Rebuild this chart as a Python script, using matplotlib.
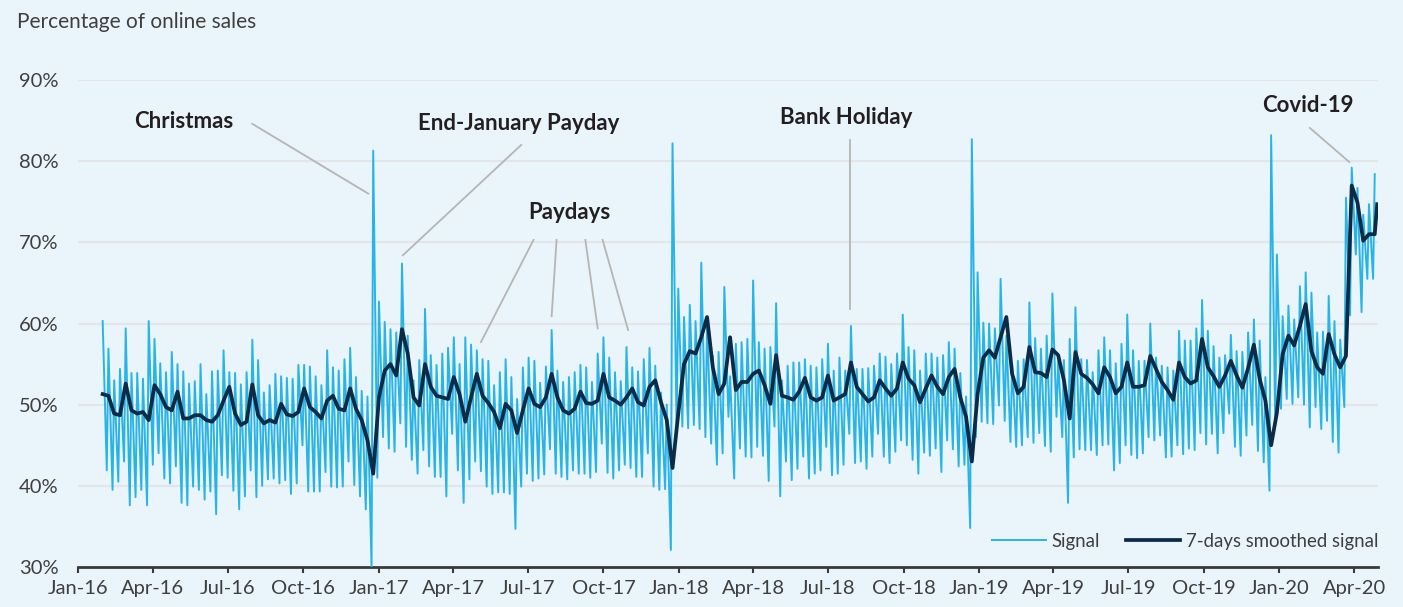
import matplotlib
matplotlib.use("Agg")
import matplotlib.pyplot as plt
import matplotlib.dates as mdates
import numpy as np
import pandas as pd

# weekly signal peaks (Sundays, from 2016-01-31) and troughs (following Friday), in %
signal_high = [
    60.3, 56.9, 53.0, 54.4, 59.4, 53.9, 53.9, 53.2, 60.3, 58.1, 55.1, 54.0, 56.5, 55.0,
    54.1, 52.6, 52.9, 55.0, 51.3, 54.1, 54.2, 56.7, 54.0, 53.9, 52.5, 54.0, 58.0,
    55.5, 51.5, 52.4, 53.8, 53.5, 53.3, 53.2, 54.9, 54.9, 54.7, 53.5, 52.4, 56.7, 54.6,
    54.2, 55.6, 57.0, 53.4, 51.7, 51.0, 81.3, 62.7, 60.2, 59.3, 58.9, 67.4, 58.5, 53.0,
    55.5, 61.8, 56.1, 54.9, 56.3, 57.0, 58.3, 55.0, 58.3, 57.4, 56.7, 55.6, 55.4, 52.4,
    54.0, 55.6, 53.4, 50.7, 54.6, 55.8, 55.4, 52.7, 54.7, 59.2, 54.2, 52.8, 53.4, 54.0,
    54.9, 54.6, 52.8, 56.3, 58.3, 55.8, 54.0, 52.9, 57.1, 54.6, 54.1, 55.6, 57.0, 54.8,
    51.5, 50.0, 82.2, 64.3, 60.8, 62.3, 60.3, 67.5, 60.0, 56.0, 56.5, 64.5, 53.5, 57.5,
    57.7, 58.1, 65.3, 57.7, 56.9, 57.1, 62.5, 53.0, 54.8, 55.2, 55.2, 55.6, 54.8, 54.6,
    55.6, 57.5, 54.2, 55.8, 54.2, 59.7, 54.4, 54.4, 54.5, 54.8, 56.3, 55.9, 55.0, 56.3, 61.1,
    57.1, 56.7, 54.2, 56.3, 56.3, 55.8, 56.1, 57.7, 56.9, 53.9, 51.0, 82.7, 66.3, 60.1,
    60.0, 59.4, 65.5, 58.5, 55.0, 55.4, 55.6, 62.6, 58.2, 56.9, 58.5, 63.7, 55.4, 55.5,
    58.1, 62.0, 55.6, 55.5, 54.0, 56.7, 58.3, 56.7, 55.1, 57.5, 61.1, 56.7, 55.4, 55.4,
    60.0, 55.8, 54.8, 54.6, 54.2, 59.1, 57.9, 57.9, 59.4, 62.9, 59.1, 57.2, 55.8, 56.1, 58.6,
    56.6, 56.5, 58.9, 60.5, 57.9, 53.4, 83.2, 68.5, 60.9, 62.2, 60.5, 64.6, 66.3, 63.8,
    58.9, 59.0, 63.4, 60.3, 58.0, 75.5, 79.2, 76.7, 73.4, 74.7, 78.4,
]
signal_low = [
    41.9, 39.5, 40.5, 43.0, 37.6, 38.6, 39.5, 37.6, 42.6, 44.0, 40.9, 40.3, 42.4, 37.9,
    37.6, 39.9, 39.5, 38.3, 39.3, 36.5, 41.3, 41.0, 39.4, 37.1, 38.7, 41.9, 38.6,
    40.0, 40.8, 40.9, 40.3, 40.7, 39.0, 40.3, 45.0, 39.3, 39.3, 39.3, 41.7, 39.9, 39.8,
    39.9, 43.0, 40.1, 38.7, 37.1, 30.0, 41.0, 46.0, 44.6, 44.2, 47.7, 44.8, 43.2, 41.5,
    44.4, 42.4, 41.1, 41.1, 38.7, 46.4, 41.9, 37.9, 40.8, 43.0, 41.8, 39.9, 39.0, 39.2,
    39.2, 39.0, 34.7, 39.9, 41.5, 40.6, 40.9, 41.4, 44.5, 41.5, 41.1, 40.8, 41.9,
    41.5, 41.5, 41.0, 41.7, 45.2, 41.6, 40.9, 41.9, 42.6, 42.2, 41.1, 41.1, 44.0, 39.9,
    39.5, 39.6, 32.1, 47.0, 47.3, 47.1, 47.5, 47.0, 46.0, 45.2, 42.6, 44.0, 48.5, 40.9, 44.6,
    43.6, 43.5, 44.8, 43.7, 40.6, 47.3, 38.7, 43.0, 40.7, 42.1, 43.6, 40.9, 41.5, 41.9,
    44.8, 41.3, 41.5, 42.6, 46.4, 42.8, 43.0, 42.1, 43.6, 46.4, 43.6, 42.8, 44.2, 45.6,
    45.0, 43.2, 41.5, 44.1, 43.7, 44.6, 41.7, 45.6, 44.5, 42.4, 42.6, 34.8, 46.0, 47.9,
    47.7, 47.6, 49.9, 48.0, 45.4, 44.8, 45.0, 46.0, 45.3, 46.5, 44.9, 44.2, 48.5, 46.0, 37.9,
    43.5, 44.5, 44.4, 44.4, 43.8, 45.0, 45.1, 41.9, 42.8, 45.0, 43.8, 43.4, 44.0, 46.0,
    45.6, 46.2, 43.5, 43.6, 45.0, 43.9, 44.6, 44.4, 46.5, 45.1, 46.4, 44.0, 46.5, 48.9,
    44.8, 43.7, 46.2, 47.5, 44.3, 42.9, 39.4, 47.5, 49.5, 50.7, 50.1, 50.9, 50.0, 47.2,
    49.7, 47.0, 48.0, 45.4, 44.1, 49.7, 61.0, 68.5, 61.4, 65.5, 65.5,
]
# 7-day smoothed signal, read on the same Sundays, plus the last day shown
smoothed = [
    51.3, 51.1, 48.9, 48.7, 52.6, 49.3, 48.9, 49.1, 48.1, 52.4, 51.3, 49.7, 49.3, 51.6,
    48.3, 48.3, 48.7, 48.7, 48.1, 47.9, 48.7, 50.5, 52.2, 48.9, 47.5, 47.9, 52.5,
    48.7, 47.7, 48.1, 47.8, 50.1, 48.8, 48.6, 49.1, 52.0, 49.7, 49.1, 48.3, 50.5, 51.1,
    49.5, 49.3, 52.0, 49.5, 48.1, 45.6, 41.5, 50.9, 54.2, 55.0, 53.6, 59.3, 56.3, 50.9,
    49.9, 55.0, 52.2, 51.1, 50.9, 50.7, 53.4, 51.3, 47.9, 50.9, 53.8, 51.1, 50.2, 49.1,
    47.1, 50.1, 49.3, 46.5, 49.3, 52.0, 50.1, 49.7, 50.9, 53.8, 50.9, 49.3, 48.9, 49.5,
    51.6, 50.2, 50.1, 50.5, 53.8, 50.9, 50.5, 50.0, 50.9, 52.0, 50.3, 49.9, 52.2, 53.0,
    50.3, 48.1, 42.2, 48.9, 55.0, 56.6, 56.3, 58.3, 60.8, 54.6, 51.3, 52.6, 58.3, 51.8, 52.8,
    52.8, 53.8, 54.2, 52.4, 50.1, 56.1, 51.1, 50.9, 50.6, 51.6, 53.3, 50.9, 50.5, 50.9,
    53.6, 50.5, 50.9, 51.3, 55.2, 52.2, 51.3, 50.4, 50.9, 53.0, 52.0, 51.1, 52.0, 55.2,
    53.2, 52.4, 50.3, 52.0, 53.6, 52.2, 51.3, 53.4, 54.4, 50.9, 48.5, 43.0, 51.3, 55.8,
    56.7, 55.8, 58.3, 60.8, 53.8, 51.4, 52.2, 57.1, 54.0, 53.9, 53.4, 56.8, 56.1, 53.0,
    48.3, 56.5, 53.8, 53.3, 52.5, 51.4, 54.6, 53.4, 51.4, 52.2, 55.2, 52.2, 52.2, 52.4,
    56.0, 54.4, 52.8, 51.8, 50.6, 55.2, 53.4, 52.6, 53.0, 58.1, 54.6, 53.5, 52.2, 53.6,
    55.4, 53.6, 52.1, 54.5, 57.4, 53.2, 50.5, 45.0, 49.0, 56.2, 58.5, 57.3, 59.7, 62.4,
    56.6, 54.6, 53.8, 58.7, 56.2, 54.6, 56.0, 77.0, 74.9, 70.2, 71.0, 71.0,
]
smoothed_last = ("2020-04-29", 74.7)

first_sunday = pd.Timestamp("2016-01-31")
x_range = ("2016-01-01", "2020-04-30")

# annotations: text, text position, line start/end pairs
annotations = [
    ("Christmas", ("2016-05-08", 84.9), [(("2016-07-31", 84.6), ("2016-12-19", 76.0))]),
    ("End-January Payday", ("2017-06-20", 84.7), [(("2017-06-23", 82.0), ("2017-01-30", 68.4))]),
    ("Paydays", ("2017-08-21", 73.7), [
        (("2017-07-08", 70.3), ("2017-05-05", 57.7)),
        (("2017-08-05", 70.3), ("2017-07-30", 60.9)),
        (("2017-09-09", 70.3), ("2017-09-24", 59.4)),
        (("2017-09-30", 70.3), ("2017-10-31", 59.2)),
    ]),
    ("Bank Holiday", ("2018-07-23", 85.4), [(("2018-07-28", 82.6), ("2018-07-28", 61.8))]),
    ("Covid-19", ("2020-02-05", 86.8), [(("2020-02-07", 84.1), ("2020-03-26", 79.9))]),
]

BG = "#EAF5FB"
SIGNAL_C = "#2AB4E6"
SMOOTH_C = "#0B2B47"
TEXT_C = "#3F3F3F"
FONT = ["Lato", "DejaVu Sans"]

plt.rcParams["font.family"] = FONT

# build the zig-zag signal from weekly peaks/troughs
weeks_hi = first_sunday + pd.to_timedelta(7 * np.arange(len(signal_high)), unit="D")
weeks_lo = weeks_hi[: len(signal_low)] + pd.Timedelta(days=5)
sig = pd.concat([
    pd.Series(signal_high, index=weeks_hi),
    pd.Series(signal_low, index=weeks_lo),
]).sort_index()

sm = pd.Series(smoothed, index=weeks_hi[: len(smoothed)])
sm.loc[pd.Timestamp(smoothed_last[0])] = smoothed_last[1]

fig = plt.figure(figsize=(14.03, 6.07), dpi=100, facecolor=BG)
ax = fig.add_axes([0.0556, 0.0659, 0.9266, 0.8023], facecolor=BG)

ax.plot(sig.index, sig.values, color=SIGNAL_C, linewidth=1.4, label="Signal", zorder=3)
ax.plot(sm.index, sm.values, color=SMOOTH_C, linewidth=2.7, label="7-days smoothed signal",
        zorder=4, solid_joinstyle="round")

ax.set_xlim(pd.Timestamp(x_range[0]), pd.Timestamp(x_range[1]))
ax.set_ylim(30, 90)
ax.set_yticks(range(30, 91, 10))
ax.set_yticklabels([f"{v}%" for v in range(30, 91, 10)])
for v in range(40, 91, 10):
    ax.axhline(v, color="#E2E6E9", linewidth=1.6, zorder=1)

ax.xaxis.set_major_locator(mdates.MonthLocator(bymonth=[1, 4, 7, 10]))
ax.xaxis.set_major_formatter(mdates.DateFormatter("%b-%y"))

for s in ("left", "right", "top"):
    ax.spines[s].set_visible(False)
ax.spines["bottom"].set_color("#3A3A3A")
ax.spines["bottom"].set_linewidth(2.0)
ax.tick_params(axis="x", direction="out", length=4.5, width=1.5, color="#3A3A3A",
               labelsize=14.5, labelcolor=TEXT_C, pad=5)
ax.tick_params(axis="y", length=0, labelsize=14.5, labelcolor=TEXT_C, pad=14)

for text, pos, lines in annotations:
    ax.text(pd.Timestamp(pos[0]), pos[1], text, ha="center", va="center",
            fontsize=16, fontweight="bold", color="#231F20", zorder=6)
    for start, end in lines:
        ax.plot([pd.Timestamp(start[0]), pd.Timestamp(end[0])], [start[1], end[1]],
                color="#B5B5B5", linewidth=1.3, zorder=5)

leg = ax.legend(loc="center right", bbox_to_anchor=(1.0, 0.053), ncol=2, frameon=False,
                fontsize=13.4, handlelength=2.9, handletextpad=0.3, columnspacing=1.4,
                borderaxespad=0, borderpad=0)
for t in leg.get_texts():
    t.set_color(TEXT_C)

fig.text(17 / 1403, 1 - 22 / 607, "Percentage of online sales", ha="left", va="center",
         fontsize=15, color=TEXT_C)

fig.savefig("out.png", dpi=100, facecolor=BG)
